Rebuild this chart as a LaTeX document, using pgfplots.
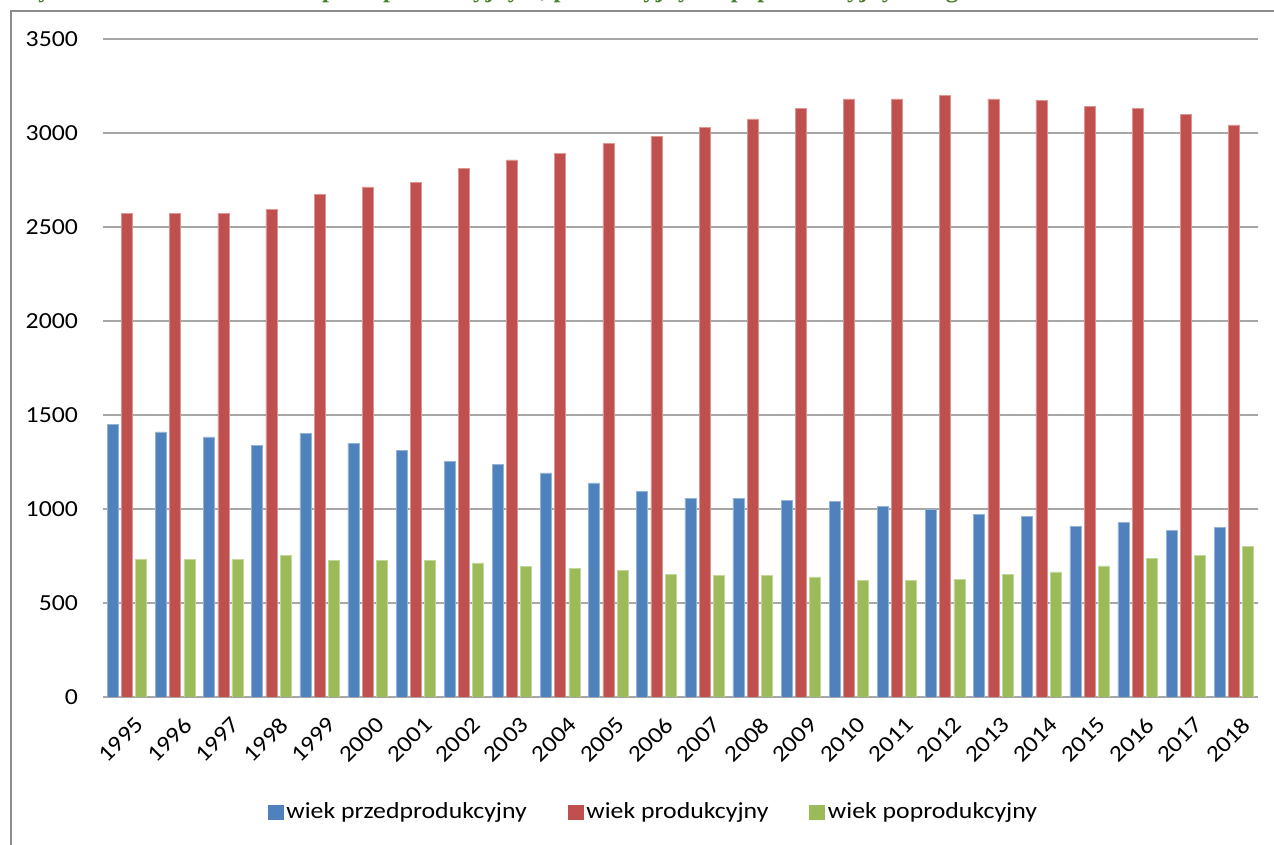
\documentclass[border=0pt]{standalone}
\usepackage{fontspec}
\setmainfont{Carlito}[FakeStretch=1.12]
\newfontfamily\titlefont{Liberation Serif}
\usepackage{pgfplots}
\usepackage{pgfplotstable}
\pgfplotsset{compat=1.18}

\definecolor{barblue}{HTML}{4F81BD}
\definecolor{barred}{HTML}{C0504D}
\definecolor{bargreen}{HTML}{9BBB59}
\definecolor{gridgray}{HTML}{A6A6A6}
\definecolor{framegray}{HTML}{8C8C8C}
\definecolor{titlegreen}{HTML}{4A7F2C}

% population by age group, 1995-2018
\pgfplotstableread{
idx year pre work post
0  1995 1449 2573 732
1  1996 1410 2573 732
2  1997 1383 2573 732
3  1998 1337 2595 752
4  1999 1403 2673 725
5  2000 1351 2713 725
6  2001 1311 2739 725
7  2002 1252 2811 713
8  2003 1238 2857 693
9  2004 1192 2891 686
10 2005 1139 2943 673
11 2006 1092 2982 654
12 2007 1058 3029 646
13 2008 1058 3075 646
14 2009 1047 3129 639
15 2010 1040 3181 620
16 2011 1014 3181 619
17 2012 997  3200 626
18 2013 972  3181 651
19 2014 959  3175 665
20 2015 906  3142 697
21 2016 927  3129 736
22 2017 887  3097 755
23 2018 901  3043 801
}\popdata

\begin{document}
\begin{tikzpicture}
\path[use as bounding box] (0pt,0pt) rectangle (637pt,422.5pt);
% chart frame
\draw[framegray, line width=1.1pt] (650pt,417pt) -- (5.5pt,417pt) -- (5.5pt,-10pt);
% heading
\node[anchor=base west, inner sep=0, text=titlegreen,
      font=\titlefont\bfseries\fontsize{12.5}{15}\selectfont] at (7pt,423.5pt)
  {Wykres 2. Ludność w wieku przedprodukcyjnym, produkcyjnym i poprodukcyjnym w gminie};

\begin{axis}[
  at={(51.5pt,74pt)}, anchor=south west,
  scale only axis, width=577.5pt, height=329pt,
  font=\fontsize{11.5}{13}\selectfont,
  xmin=-0.5, xmax=23.5, ymin=0, ymax=3500,
  ytick={0,500,...,3500},
  xtick={0,...,23},
  xticklabels={1995,1996,1997,1998,1999,2000,2001,2002,2003,2004,2005,2006,
               2007,2008,2009,2010,2011,2012,2013,2014,2015,2016,2017,2018},
  /pgf/number format/1000 sep={},
  /pgf/number format/assume math mode=true,
  axis lines*=left,
  y axis line style={draw=none},
  x axis line style={gridgray, line width=0.75pt, -},
  major tick length=0pt,
  ymajorgrids,
  major grid style={gridgray, line width=0.75pt},
  yticklabel style={anchor=east, xshift=-9pt},
  xticklabel style={rotate=45, anchor=north east, inner sep=1pt, xshift=-3pt, yshift=-8pt},
  legend columns=3,
  legend style={at={(0.477,-0.175)}, anchor=center, draw=none, fill=none,
                font=\fontsize{11.5}{13}\selectfont,
                /tikz/every even column/.append style={column sep=19pt},
                nodes={inner sep=1.5pt}},
  legend cell align=left,
]
\addplot[ybar, bar width=0.229, bar shift=-0.295, fill=barblue, draw=barblue!60!white, line width=0.3pt,
  legend image code/.code={\fill[barblue] (0pt,-3.5pt) rectangle (7.5pt,3.5pt);}]
  table[x=idx, y=pre] {\popdata};
\addlegendentry{wiek przedprodukcyjny}
\addplot[ybar, bar width=0.229, bar shift=0, fill=barred, draw=barred!60!white, line width=0.3pt,
  legend image code/.code={\fill[barred] (0pt,-3.5pt) rectangle (7.5pt,3.5pt);}]
  table[x=idx, y=work] {\popdata};
\addlegendentry{wiek produkcyjny}
\addplot[ybar, bar width=0.229, bar shift=0.295, fill=bargreen, draw=bargreen!60!white, line width=0.3pt,
  legend image code/.code={\fill[bargreen] (0pt,-3.5pt) rectangle (7.5pt,3.5pt);}]
  table[x=idx, y=post] {\popdata};
\addlegendentry{wiek poprodukcyjny}
\end{axis}
\end{tikzpicture}
\end{document}
